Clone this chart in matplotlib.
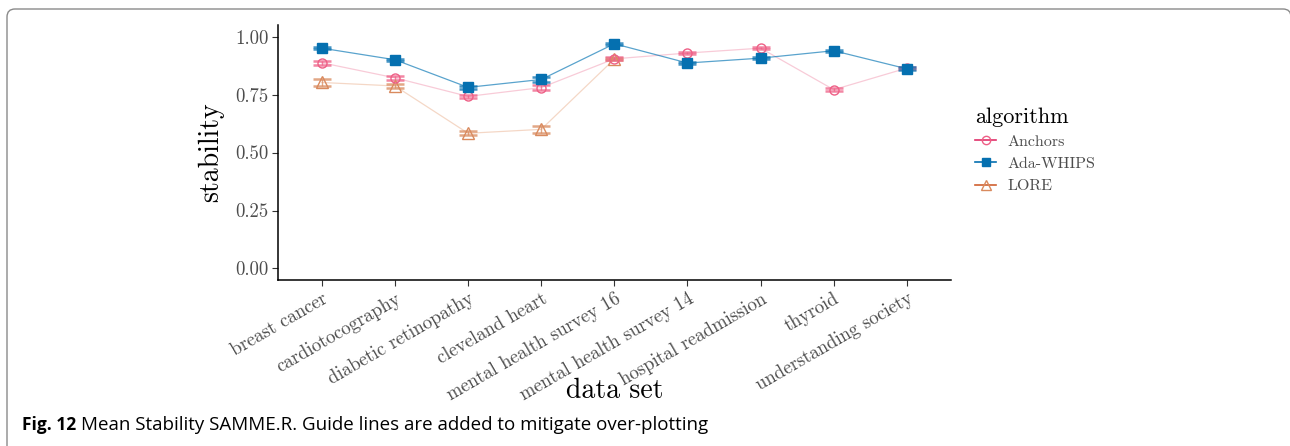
#!/usr/bin/env python3

import matplotlib
matplotlib.use('Agg')
import matplotlib.pyplot as plt
from matplotlib.patches import FancyBboxPatch
from matplotlib.transforms import IdentityTransform
from matplotlib.lines import Line2D

# data
datasets = ["breast cancer", "cardiotocography", "diabetic retinopathy",
            "cleveland heart", "mental health survey 16", "mental health survey 14",
            "hospital readmission", "thyroid", "understanding society"]

anchors     = [0.887, 0.822, 0.742, 0.780, 0.904, 0.929, 0.950, 0.771, 0.864]
anchors_err = [0.008, 0.010, 0.008, 0.010, 0.007, 0.006, 0.005, 0.007, 0.005]
ada         = [0.950, 0.900, 0.781, 0.815, 0.969, 0.886, 0.907, 0.939, 0.861]
ada_err     = [0.005, 0.005, 0.008, 0.010, 0.004, 0.006, 0.004, 0.004, 0.006]
lore        = [0.802, 0.787, 0.583, 0.600, 0.903]
lore_err    = [0.015, 0.010, 0.008, 0.014, 0.006]

yticks = [0.00, 0.25, 0.50, 0.75, 1.00]

SERIF = 'cmr10'
plt.rcParams['axes.formatter.use_mathtext'] = True


def draw(ax, vals, errs, line_col, line_alpha, pt_col, marker, ms, filled):
    xs = list(range(1, len(vals) + 1))
    ax.plot(xs, vals, color=line_col, lw=0.9, alpha=line_alpha, zorder=2)
    ax.errorbar(xs, vals, yerr=errs, fmt='none', ecolor=pt_col, elinewidth=1.0,
                capsize=6.5, capthick=1.8, alpha=0.75, zorder=3)
    ax.plot(xs, vals, ls='none', marker=marker, ms=ms,
            mfc=pt_col if filled else 'none', mec=pt_col, mew=1.0, zorder=4)


def main():
    fig = plt.figure(figsize=(12.9, 4.46), dpi=100)
    ax = fig.add_axes([0.2155, 0.372, 0.5215, 0.572])

    draw(ax, lore, lore_err, '#E8A882', 0.45, '#D98A5E', '^', 8, False)
    draw(ax, anchors, anchors_err, '#F08CA8', 0.45, '#EE5F86', 'o', 6.5, False)
    draw(ax, ada, ada_err, '#0072B2', 0.65, '#0570B0', 's', 6.5, True)

    ax.set_xlim(0.4, len(datasets) + 0.6)
    ax.set_ylim(-0.05, 1.05)
    ax.set_yticks(yticks)
    ax.set_yticklabels(["%.2f" % v for v in yticks], fontfamily=SERIF, fontsize=13.5,
                       color='#4d4d4d')
    ax.set_xticks(range(1, len(datasets) + 1))
    ax.set_xticklabels(datasets, rotation=30, ha='right', va='top',
                       rotation_mode='anchor', fontfamily=SERIF, fontsize=13.5,
                       color='#4d4d4d')
    ax.tick_params(length=4, width=0.8, color='#333333', pad=3)

    for s in ['top', 'right']:
        ax.spines[s].set_visible(False)
    for s in ['left', 'bottom']:
        ax.spines[s].set_linewidth(1.1)

    ax.set_ylabel("stability", fontfamily=SERIF, fontsize=20, labelpad=8)
    ax.set_xlabel("data set", fontfamily=SERIF, fontsize=20, labelpad=-19)

    # legend
    handles = [
        Line2D([], [], color='#E0306A', lw=1.2, marker='o', ms=6, mfc='none', mec='#EE5F86'),
        Line2D([], [], color='#0570B0', lw=1.2, marker='s', ms=6, mfc='#0570B0', mec='#0570B0'),
        Line2D([], [], color='#D06030', lw=1.2, marker='^', ms=7, mfc='none', mec='#D98A5E'),
    ]
    leg = fig.legend(handles, ["Anchors", "Ada-WHIPS", "LORE"], title="algorithm",
                     loc='upper left', bbox_to_anchor=(0.745, 0.792), frameon=False,
                     prop={'family': SERIF, 'size': 11.5}, handlelength=1.3,
                     handletextpad=0.7, labelspacing=0.5, alignment='left')
    leg.get_title().set_fontfamily(SERIF)
    leg.get_title().set_fontsize(16)
    for t in leg.get_texts():
        t.set_color('#4d4d4d')

    # caption and frame
    fig.canvas.draw()
    r = fig.canvas.get_renderer()
    fig_t = fig.text(0.017, 0.047, "Fig. 12", fontfamily='Open Sans', fontweight='bold',
                     fontsize=12.5, va='center')
    bb = fig_t.get_window_extent(renderer=r)
    fig.text((bb.x1 + 5) / 1290, 0.047,
             "Mean Stability SAMME.R. Guide lines are added to mitigate over-plotting",
             fontfamily='Open Sans', fontsize=13.5, va='center')

    frame = FancyBboxPatch((7, -40), 1284, 477, boxstyle="round,pad=0,rounding_size=8",
                           transform=IdentityTransform(), fill=False,
                           edgecolor='#8a8a8a', lw=1.0)
    fig.add_artist(frame)

    plt.savefig("out.png", dpi=100)


if __name__ == "__main__":
    main()
